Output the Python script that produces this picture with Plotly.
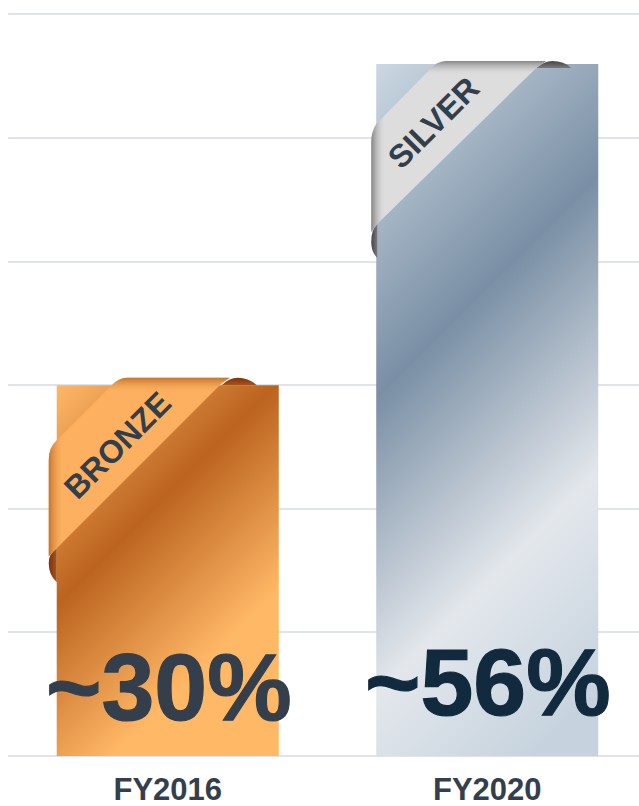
import json
import plotly.graph_objects as go

# Chart data
categories = ["FY2016", "FY2020"]
values = [30, 56]
value_labels = ["~30%", "~56%"]
tiers = ["BRONZE", "SILVER"]
value_colors = ["#343f4b", "#112a3d"]

BAR_HALF_WIDTH = 111
TEXT = "#353f4c"
GRID = "#e0e4ea"


def pt(dx, dy):
    """Offset from a bar's top-left corner, as pixels from the bar's top-centre anchor."""
    return f"{dx - BAR_HALF_WIDTH},{-dy}"


def path(*steps):
    out = []
    for cmd, *pts in steps:
        out.append(cmd + " " + " ".join(pt(*p) for p in pts))
    return " ".join(out) + " Z"


ribbons = [
    dict(
        band=path(("M", (0, 55)), ("L", (55, 0)), ("Q", (62, -7.5), (70, -7.5)),
                  ("L", (173, -7.5)), ("L", (165, -2)), ("L", (0, 163)), ("L", (-8, 171)),
                  ("L", (-8, 75)), ("Q", (-8, 62), (0, 55))),
        curl_side=path(("M", (0, 163)), ("Q", (-8, 168), (-8, 178)), ("Q", (-8, 190), (0, 197))),
        curl_top=path(("M", (165, 0)), ("Q", (172, -7.5), (181, -7.5)), ("Q", (192, -7.5), (200, 0))),
    ),
    dict(
        band=path(("M", (0, 60)), ("L", (52, 7)), ("Q", (60, -3), (70, -3)),
                  ("L", (170, -3)), ("L", (160, 4)), ("L", (1, 160)), ("L", (-5, 168)),
                  ("L", (-5, 78)), ("Q", (-5, 68), (0, 60))),
        curl_side=path(("M", (1, 160)), ("Q", (-5, 165), (-5, 178)), ("Q", (-5, 188), (1, 194))),
        curl_top=path(("M", (160, 4)), ("Q", (168, -3), (176, -3)), ("Q", (188, -3), (195, 4))),
    ),
]

# Gradient stops: bar fills run at 45 degrees across each bar's bounding box
bar_stops = [
    [(0, "#ffb866"), (0.37, "#bb631f"), (0.72, "#ffb866"), (1, "#ffb866")],
    [(0, "#cbd8e2"), (0.365, "#7a8fa5"), (0.69, "#e3e7ec"), (0.93, "#c6d3de"), (1, "#c6d3de")],
]
band_colors = ["#fdb05f", "#dddddd"]
edge_colors = ["#c4742b", "#858585"]
curl_colors = [("#7e310a", "#a9561c"), ("#444444", "#7a7a7a")]

fig = go.Figure(
    go.Bar(
        x=categories,
        y=values,
        marker=dict(color=["#d88a40", "#9fb0c0"], line=dict(width=0)),
        hoverinfo="skip",
    )
)

shapes = []
shape_fills = []
for i, cat in enumerate(categories):
    r = ribbons[i]
    base = dict(type="path", xref="x", yref="y", xsizemode="pixel", ysizemode="pixel",
                xanchor=cat, yanchor=values[i], layer="above", line=dict(width=0))
    for d, fill in [
        (r["curl_top"], dict(dir="v", stops=[(0, curl_colors[i][0]), (1, curl_colors[i][1])])),
        (r["curl_side"], dict(dir="h", stops=[(0, curl_colors[i][0]), (1, curl_colors[i][1])])),
        (r["band"], None),
        (r["band"], dict(dir="v", stops=[(0, edge_colors[i], 1), (0.085, band_colors[i], 0), (1, band_colors[i], 0)])),
        (r["band"], dict(dir="h", stops=[(0, edge_colors[i], 1), (0.085, band_colors[i], 0), (1, band_colors[i], 0)])),
    ]:
        shapes.append(dict(base, path=d, fillcolor=band_colors[i]))
        shape_fills.append(fill)

annotations = []
ribbon_text_pos = [(-50, -60), (-54, -59)]
label_shift = [(1, -302), (1, -618)]
for i, cat in enumerate(categories):
    annotations.append(dict(
        x=cat, y=values[i], xref="x", yref="y", text=tiers[i], showarrow=False, textangle=-45,
        xshift=ribbon_text_pos[i][0], yshift=ribbon_text_pos[i][1],
        font=dict(family="Liberation Sans", size=32, color="#2f3f4e", weight=700),
    ))
    annotations.append(dict(
        x=cat, y=values[i], xref="x", yref="y", text=value_labels[i], showarrow=False,
        xshift=label_shift[i][0], yshift=label_shift[i][1],
        font=dict(family="Liberation Sans", size=95, color=value_colors[i], weight=700),
    ))

fig.update_layout(
    width=639,
    height=806,
    margin=dict(l=8, r=0, t=11.5, b=50, autoexpand=False),
    paper_bgcolor="white",
    plot_bgcolor="white",
    showlegend=False,
    bargap=0.305,
    shapes=shapes,
    annotations=annotations,
    xaxis=dict(
        type="category",
        categoryorder="array",
        categoryarray=categories,
        range=[-0.5, 1.475],
        showgrid=False,
        zeroline=False,
        showline=False,
        ticks="",
        ticklabelstandoff=12,
        tickfont=dict(family="Liberation Sans", size=31, color=TEXT, weight=700),
        fixedrange=True,
    ),
    yaxis=dict(
        range=[0, 60.2],
        dtick=10,
        showticklabels=False,
        showgrid=True,
        gridcolor=GRID,
        gridwidth=2,
        zeroline=True,
        zerolinecolor=GRID,
        zerolinewidth=2,
        fixedrange=True,
    ),
)

# Plotly bars and shapes only take flat colours, so gradients are attached after drawing
post_script = """
var gd = document.getElementById('{plot_id}');
var NS = 'http://www.w3.org/2000/svg';
var svg = gd.querySelector('svg.main-svg');
var defs = document.createElementNS(NS, 'defs');
svg.appendChild(defs);
function grad(id, stops, attrs) {
  var g = document.createElementNS(NS, 'linearGradient');
  g.setAttribute('id', id);
  Object.keys(attrs).forEach(function (k) { g.setAttribute(k, attrs[k]); });
  stops.forEach(function (s) {
    var st = document.createElementNS(NS, 'stop');
    st.setAttribute('offset', s[0]);
    st.setAttribute('stop-color', s[1]);
    st.setAttribute('stop-opacity', s.length > 2 ? s[2] : 1);
    g.appendChild(st);
  });
  defs.appendChild(g);
  return 'url(#' + id + ')';
}
var barStops = BAR_STOPS;
gd.querySelectorAll('.bars .point path').forEach(function (p, i) {
  var b = p.getBBox();
  var span = (b.width + b.height) / 2;
  p.style.fill = grad('barfill' + i, barStops[i], {
    gradientUnits: 'userSpaceOnUse', x1: b.x, y1: b.y, x2: b.x + span, y2: b.y + span
  });
  p.style.fillOpacity = 1;
});
var shapeFills = SHAPE_FILLS;
gd.querySelectorAll('.layer-above .shapelayer path').forEach(function (p) {
  var i = +p.getAttribute('data-index');
  var f = shapeFills[i];
  if (!f) return;
  p.style.fill = grad('shapefill' + i, f.stops, f.dir === 'v'
    ? {x1: 0, y1: 0, x2: 0, y2: 1}
    : {x1: 0, y1: 0, x2: 1, y2: 0});
  p.style.fillOpacity = 1;
});
// Slightly heavier strokes on the large percentage labels
gd.querySelectorAll('.annotation-text').forEach(function (t) {
  var size = parseFloat(t.style.fontSize);
  if (size > 60) {
    t.style.stroke = t.style.fill;
    t.style.strokeWidth = '1.2px';
  }
});
""".replace("BAR_STOPS", json.dumps(bar_stops)).replace("SHAPE_FILLS", json.dumps(shape_fills))

fig.write_html("out.html", post_script=post_script, config=dict(displayModeBar=False, staticPlot=True))
